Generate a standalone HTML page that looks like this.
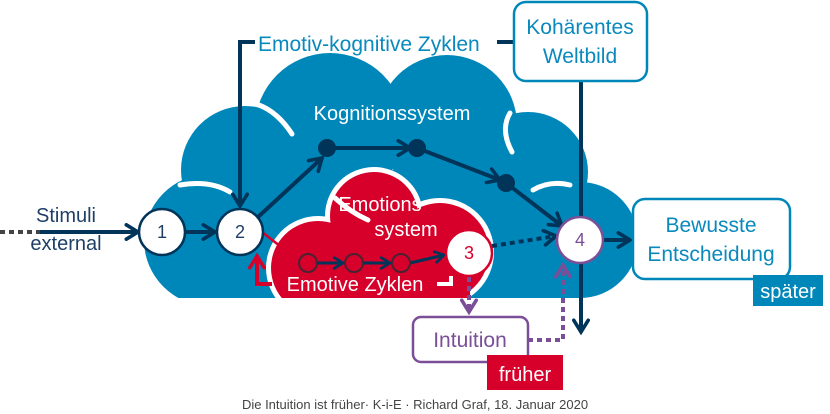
<!DOCTYPE html>
<html><head><meta charset="utf-8"><style>
html,body{margin:0;padding:0;background:#fff;}
svg{display:block;font-family:"Liberation Sans","DejaVu Sans",sans-serif;}
</style></head><body>
<svg width="830" height="414" viewBox="0 0 830 414" xmlns="http://www.w3.org/2000/svg">
<defs>
<marker id="an" viewBox="0 0 10 10" refX="8" refY="5" markerWidth="4.5" markerHeight="4.5" orient="auto"><path d="M1.5,1 L8,5 L1.5,9" fill="none" stroke="#003459" stroke-width="2" stroke-linecap="round"/></marker>
<marker id="ap" viewBox="0 0 10 10" refX="8" refY="5" markerWidth="4.5" markerHeight="4.5" orient="auto"><path d="M1.5,1 L8,5 L1.5,9" fill="none" stroke="#7B4F98" stroke-width="2" stroke-linecap="round"/></marker>
<marker id="ar" viewBox="0 0 10 10" refX="8" refY="5" markerWidth="4.5" markerHeight="4.5" orient="auto"><path d="M1.5,1 L8,5 L1.5,9" fill="none" stroke="#D6002A" stroke-width="2" stroke-linecap="round"/></marker>
<clipPath id="cb"><rect x="0" y="0" width="830" height="298"/></clipPath>
</defs>
<g clip-path="url(#cb)" fill="#0087BA">
<circle cx="210" cy="240" r="66"/>
<circle cx="245" cy="170" r="64"/>
<circle cx="330" cy="128" r="75"/>
<circle cx="447" cy="125" r="70"/>
<circle cx="528" cy="172" r="60"/>
<circle cx="580" cy="240" r="58"/>
<rect x="200" y="170" width="380" height="128"/>
</g>
<g fill="none" stroke="#fff" stroke-width="5" stroke-linecap="round">
<path d="M252,103 Q275,108 292,134"/>
<path d="M180,185 Q210,180 230,192"/>
<path d="M510,113 Q500,130 512,152"/>
<path d="M533,190 Q550,180 570,185"/>
</g>
<g clip-path="url(#cb)">
<g fill="#fff">
<circle cx="374" cy="216" r="49"/>
<circle cx="318" cy="268" r="52"/>
<circle cx="440" cy="252" r="54"/>
</g>
<g fill="#D6002A">
<circle cx="374" cy="216" r="44"/>
<circle cx="318" cy="268" r="47"/>
<circle cx="440" cy="252" r="49"/>
<rect x="300" y="240" width="170" height="60"/>
</g>
<path d="M335,198 Q350,212 368,220" stroke="#fff" stroke-width="5" fill="none" stroke-linecap="round"/>
</g>
<g stroke="#003459" stroke-width="4" fill="none">
<path d="M40,232 L138,232" marker-end="url(#an)"/>
<path d="M185,232 L215,232" marker-end="url(#an)"/>
<path d="M255,42 L240,42 L240,206" marker-end="url(#an)"/>
<path d="M497,42 L513,42"/>
<path d="M258,217 L322,158" marker-end="url(#an)"/>
<path d="M327,148 L410,148" marker-end="url(#an)"/>
<path d="M417,148 L500,180" marker-end="url(#an)"/>
<path d="M506,183 L562,226" marker-end="url(#an)"/>
<path d="M581,81 L581,332" marker-end="url(#an)"/>
<path d="M603,240 L630,240" marker-end="url(#an)"/>
<path d="M0,232 L40,232" stroke="#444" stroke-dasharray="5,4"/>
<path d="M492,246 L556,236" stroke-dasharray="5,4" marker-end="url(#an)"/>
</g>
<g stroke="#003459" stroke-width="3" fill="none">
<path d="M317,263 L343,263" marker-end="url(#an)"/>
<path d="M363,263 L390,263" marker-end="url(#an)"/>
<path d="M410,263 L444,255" marker-end="url(#an)"/>
</g>
<path d="M262,232 L285,250" stroke="#D6002A" stroke-width="2.5"/>
<path d="M272,284 L257,284 L257,256" stroke="#D6002A" stroke-width="4" fill="none" marker-end="url(#ar)"/>
<path d="M437,284 L451,284 L451,276" stroke="#fff" stroke-width="4" fill="none"/>
<g stroke="#7B4F98" stroke-width="4" fill="none" stroke-dasharray="5,4">
<path d="M469,277 L469,312" marker-end="url(#ap)"/>
<path d="M528,340 L563,340 L563,265" marker-end="url(#ap)"/>
</g>
<g fill="#003459"><circle cx="327" cy="148" r="9"/><circle cx="417" cy="148" r="9"/><circle cx="506" cy="183" r="9"/></g>
<g fill="#D6002A" stroke="#4a2330" stroke-width="2"><circle cx="308" cy="263" r="9"/><circle cx="354" cy="263" r="9"/><circle cx="401" cy="263" r="9"/></g>
<g font-size="18" text-anchor="middle">
<circle cx="162" cy="232" r="23" fill="#fff" stroke="#003459" stroke-width="2.5"/><text x="162" y="238" fill="#1f3f66">1</text>
<circle cx="240" cy="232" r="23" fill="#fff" stroke="#003459" stroke-width="2.5"/><text x="240" y="238" fill="#1f3f66">2</text>
<circle cx="469" cy="253" r="23" fill="#fff" stroke="#D6002A" stroke-width="2.5"/><text x="469" y="259" fill="#D6002A">3</text>
<circle cx="580" cy="240" r="23" fill="#fff" stroke="#7B4F98" stroke-width="2.5"/><text x="580" y="246" fill="#7B4F98">4</text>
</g>
<rect x="514" y="2" width="133" height="79" rx="12" fill="#fff" stroke="#0087BA" stroke-width="2.5"/>
<rect x="633" y="199" width="157" height="80" rx="12" fill="#fff" stroke="#0087BA" stroke-width="2.5"/>
<rect x="753" y="275" width="70" height="31" fill="#0087BA"/>
<rect x="413" y="317" width="115" height="45" rx="8" fill="#fff" stroke="#7B4F98" stroke-width="2.5"/>
<rect x="487" y="355" width="76" height="35" fill="#D6002A"/>
<g font-size="21">
<text x="258" y="51" fill="#0a89bd">Emotiv-kognitive Zyklen</text>
<text x="580" y="34" fill="#0a89bd" text-anchor="middle">Kohärentes</text>
<text x="580" y="63" fill="#0a89bd" text-anchor="middle">Weltbild</text>
<text x="711" y="232" fill="#0a89bd" text-anchor="middle">Bewusste</text>
<text x="711" y="261" fill="#0a89bd" text-anchor="middle">Entscheidung</text>
<text x="788" y="298" fill="#fff" text-anchor="middle" font-size="20">später</text>
<text x="470" y="347" fill="#7B4F98" text-anchor="middle">Intuition</text>
<text x="525" y="381" fill="#fff" text-anchor="middle" font-size="20">früher</text>
<text x="392" y="120" fill="#fff" text-anchor="middle" font-size="20">Kognitionssystem</text>
<text x="380" y="211" fill="#fff" text-anchor="middle" font-size="20">Emotions</text>
<text x="406" y="236" fill="#fff" text-anchor="middle" font-size="20">system</text>
<text x="355" y="291" fill="#fff" text-anchor="middle" font-size="20">Emotive Zyklen</text>
<text x="66" y="222" fill="#1f3f66" text-anchor="middle" font-size="20">Stimuli</text>
<text x="66" y="250" fill="#1f3f66" text-anchor="middle" font-size="20">external</text>
</g>
<text x="415" y="409" fill="#444" text-anchor="middle" font-size="13">Die Intuition ist früher· K-i-E · Richard Graf, 18. Januar 2020</text>
</svg>
</body></html>
